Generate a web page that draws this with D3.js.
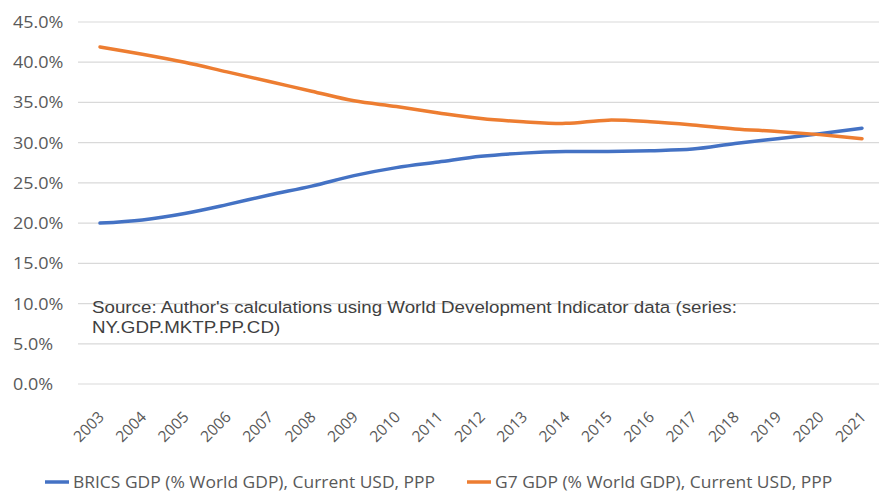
<!DOCTYPE html>
<html>
<head>
<meta charset="utf-8">
<script src="https://cdn.jsdelivr.net/npm/d3@7"></script>
<style>
  html, body { margin: 0; padding: 0; background: #ffffff; }
  svg { display: block; }
</style>
</head>
<body>
<svg id="chart" width="879" height="493"></svg>
<script>
// Share of world GDP (PPP, current USD), percent
const years = [2003, 2004, 2005, 2006, 2007, 2008, 2009, 2010, 2011, 2012,
               2013, 2014, 2015, 2016, 2017, 2018, 2019, 2020, 2021];
const bricsShare = [20.0, 20.4, 21.2, 22.3, 23.5, 24.6, 25.9, 26.9, 27.6, 28.3,
                    28.7, 28.9, 28.9, 29.0, 29.2, 29.9, 30.5, 31.1, 31.8];
const g7Share = [41.9, 41.0, 40.0, 38.8, 37.6, 36.4, 35.2, 34.5, 33.7, 33.0,
                 32.6, 32.4, 32.8, 32.6, 32.2, 31.7, 31.4, 31.0, 30.5];
const yTicks = [0, 5, 10, 15, 20, 25, 30, 35, 40, 45];
const seriesNames = ["BRICS GDP (% World GDP), Current USD, PPP",
                     "G7 GDP (% World GDP), Current USD, PPP"];
const seriesColors = ["#4472C4", "#ED7D31"];
const sourceNote = ["Source: Author's calculations using World Development Indicator data (series:",
                    "NY.GDP.MKTP.PP.CD)"];

const svg = d3.select("#chart");
const uiFont = "'Open Sans', 'Noto Sans', sans-serif";
const widen = 1.09; // slightly wide lettering throughout

const x = d3.scalePoint().domain(years).range([100, 862]);
const y = d3.scaleLinear().domain([0, 45]).range([384, 22]);

// horizontal gridlines
svg.append("g")
  .selectAll("line")
  .data(yTicks)
  .join("line")
  .attr("x1", 78).attr("x2", 879)
  .attr("y1", d => y(d)).attr("y2", d => y(d))
  .attr("stroke", "#d9d9d9").attr("stroke-width", 1.2);

// y tick labels (left aligned)
svg.append("g")
  .selectAll("text")
  .data(yTicks)
  .join("text")
  .attr("transform", d => `translate(13,${y(d)}) scale(${widen},1)`)
  .attr("dy", "0.36em")
  .attr("font-family", uiFont)
  .attr("font-size", 16.5)
  .attr("fill", "#595959")
  .text(d => d3.format(".1f")(d) + "%");

// x tick labels, rotated
svg.append("g")
  .selectAll("text")
  .data(years)
  .join("text")
  .attr("transform", d => `translate(${x(d) + 5},${418}) rotate(-45)`)
  .attr("text-anchor", "end")
  .attr("font-family", uiFont)
  .attr("font-size", 15.5)
  .attr("fill", "#595959")
  .text(d => d);

// source note
svg.append("g")
  .selectAll("text")
  .data(sourceNote)
  .join("text")
  .attr("transform", (d, i) => `translate(92,${312.5 + i * 20.5}) scale(${widen},1)`)
  .attr("font-family", "'Liberation Sans', Arial, sans-serif")
  .attr("font-size", 17.2)
  .attr("fill", "#404040")
  .text(d => d);

// series lines
const line = d3.line()
  .x((d, i) => x(years[i]))
  .y(d => y(d))
  .curve(d3.curveCatmullRom.alpha(0.5));

[bricsShare, g7Share].forEach((vals, k) => {
  svg.append("path")
    .datum(vals)
    .attr("d", line)
    .attr("fill", "none")
    .attr("stroke", seriesColors[k])
    .attr("stroke-width", 3.5)
    .attr("stroke-linecap", "round");
});

// legend
const legendX = [45, 467];
seriesNames.forEach((name, k) => {
  const g = svg.append("g").attr("transform", `translate(${legendX[k]},482)`);
  g.append("line")
    .attr("x1", 0).attr("x2", 24)
    .attr("y1", 0).attr("y2", 0)
    .attr("stroke", seriesColors[k]).attr("stroke-width", 3.5);
  g.append("text")
    .attr("transform", `translate(28,0) scale(${widen},1)`)
    .attr("dy", "0.36em")
    .attr("font-family", uiFont)
    .attr("font-size", 16)
    .attr("fill", "#595959")
    .text(name);
});
</script>
</body>
</html>
